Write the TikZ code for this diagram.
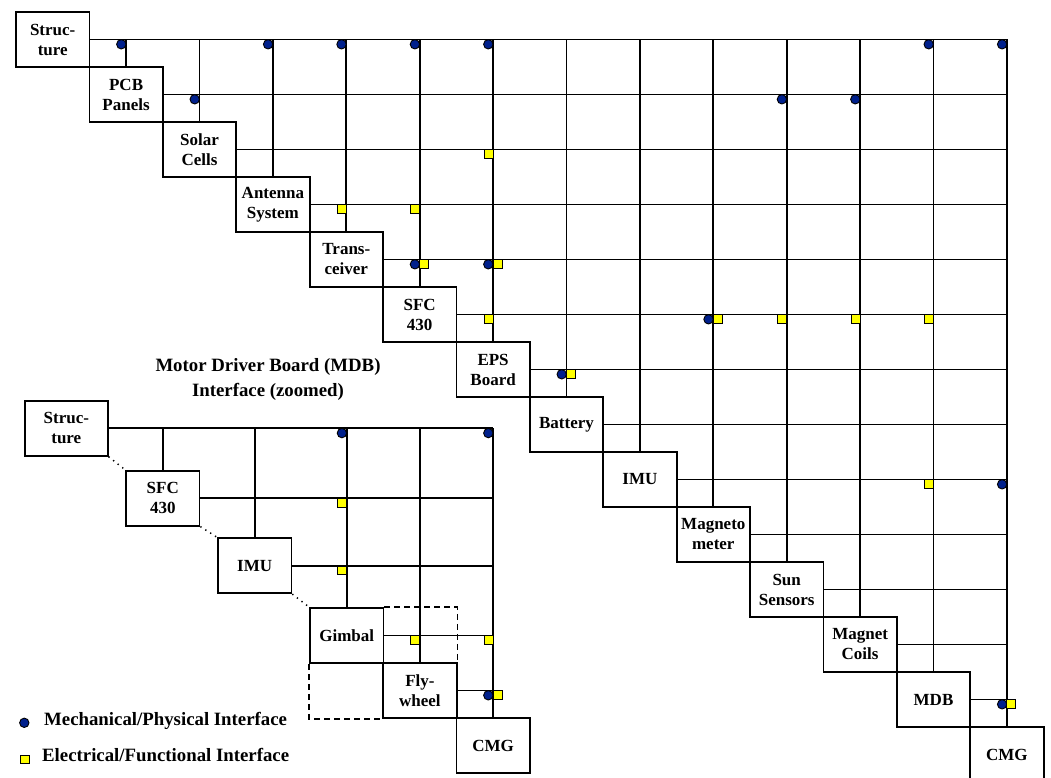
\documentclass[tikz,border=0pt]{standalone}
\usepackage{fontspec}
\setmainfont{Liberation Serif}
\definecolor{dotblue}{RGB}{0,32,140}
\definecolor{sqyellow}{RGB}{255,255,0}
\newcommand\MkDot[1]{\draw[mdot] ([shift={(-4.8,4.8)}]#1) circle (4.7pt);}
\newcommand\MkSqL[1]{\draw[esq] ([shift={(-9,0.4)}]#1) rectangle ([shift={(0,9)}]#1);}
\newcommand\MkSqR[1]{\draw[esq] ([shift={(0,0.4)}]#1) rectangle ([shift={(9,9)}]#1);}
\begin{document}
\begin{tikzpicture}[x=1pt,y=-1pt,
  box/.style={draw,line width=1.8pt,minimum width=73.4pt,minimum height=55pt,inner sep=0pt,align=center,
    font=\bfseries\fontsize{17}{20}\selectfont},
  gridline/.style={line width=1.7pt},
  mdot/.style={draw=black,line width=0.9pt,fill=dotblue},
  esq/.style={draw=black,line width=0.9pt,fill=sqyellow},
  bigtext/.style={font=\bfseries\fontsize{18.8}{24.5}\selectfont,align=center,inner sep=0pt},
  dotline/.style={line width=1.5pt,dash pattern=on 1.3pt off 4.5pt},
  dashline/.style={line width=1.6pt,dash pattern=on 6pt off 4pt}]
\useasboundingbox (0,0) rectangle (1051,778);
\clip (0,0) rectangle (1051,778);

% ---------- main N2 diagram ----------
\foreach \i/\t in {0/{Struc-\\ture},1/{PCB\\Panels},2/{Solar\\Cells},3/{Antenna\\System},
  4/{Trans-\\ceiver},5/{SFC\\430},6/{EPS\\Board},7/{Battery},8/{IMU},9/{Magneto\\meter},
  10/{Sun\\Sensors},11/{Magnet\\Coils},12/{MDB},13/{CMG}}
  \node[box] (m\i) at ({52.7+73.4*\i},{39.5+55*\i}) {\t};

\foreach \i in {0,...,12}
  \draw[gridline] (m\i.east) -- (m\i.east -| m13.center);
\foreach \j in {1,...,13}
  \draw[gridline] (m\j.north) -- (m\j.north |- m0.center);

% markers: row r, column c
\foreach \r/\c in {0/1,0/3,0/4,0/5,0/6,0/12,0/13,1/2,1/10,1/11,4/5,4/6,5/9,6/7,8/13,12/13}{
  \coordinate (t) at (m\c.center |- m\r.center);
  \MkDot{t}}
\foreach \r/\c in {2/6,3/4,3/5,5/6,5/10,5/11,5/12,8/12}{
  \coordinate (t) at (m\c.center |- m\r.center);
  \MkSqL{t}}
\foreach \r/\c in {4/5,4/6,5/9,6/7,12/13}{
  \coordinate (t) at (m\c.center |- m\r.center);
  \MkSqR{t}}

% ---------- zoomed MDB inset ----------
\node[bigtext] (title) at (268,379.5) {Motor Driver Board (MDB)\\Interface (zoomed)};

\node[box,minimum width=82.7pt] (n0) at (66.3,428.3) {Struc-\\ture};
\node[box] (n1) at (162.8,498.2) {SFC\\430};
\node[box] (n2) at (254.7,565.7) {IMU};
\node[box] (n3) at (346.7,635.5) {Gimbal};
\node[box] (n4) at (419.9,690.5) {Fly-\\wheel};
\node[box] (n5) at (493.1,745.8) {CMG};

\foreach \i in {0,...,4}
  \draw[gridline] (n\i.east) -- (n\i.east -| n5.center);
\foreach \j in {1,...,5}
  \draw[gridline] (n\j.north) -- (n\j.north |- n0.center);

\draw[dotline] (n0.south east) -- (n1.north west);
\draw[dotline] (n1.south east) -- (n2.north west);
\draw[dotline] (n2.south east) -- (n3.north west);
\draw[dashline] (n3.north east) -- (n3.north east -| n4.east) -- (n4.north east);
\draw[dashline] (n3.south west) -- (n3.south west |- n4.south) -- (n4.south west);

\foreach \r/\c in {0/3,0/5,4/5}{
  \coordinate (t) at (n\c.center |- n\r.center);
  \MkDot{t}}
\foreach \r/\c in {1/3,2/3,3/4,3/5}{
  \coordinate (t) at (n\c.center |- n\r.center);
  \MkSqL{t}}
\foreach \r/\c in {4/5}{
  \coordinate (t) at (n\c.center |- n\r.center);
  \MkSqR{t}}

% ---------- legend ----------
\coordinate (ld) at (24.3,722.8);
\draw[mdot] (ld) circle (4.7pt);
\node[bigtext,anchor=base west] (lt1) at (44,725) {Mechanical/Physical Interface};
\coordinate (ls) at (20.3,755);
\draw[esq] (ls) rectangle ([shift={(9,8.5)}]ls);
\node[bigtext,anchor=base west] (lt2) at (42,761.5) {Electrical/Functional Interface};
\end{tikzpicture}
\end{document}
